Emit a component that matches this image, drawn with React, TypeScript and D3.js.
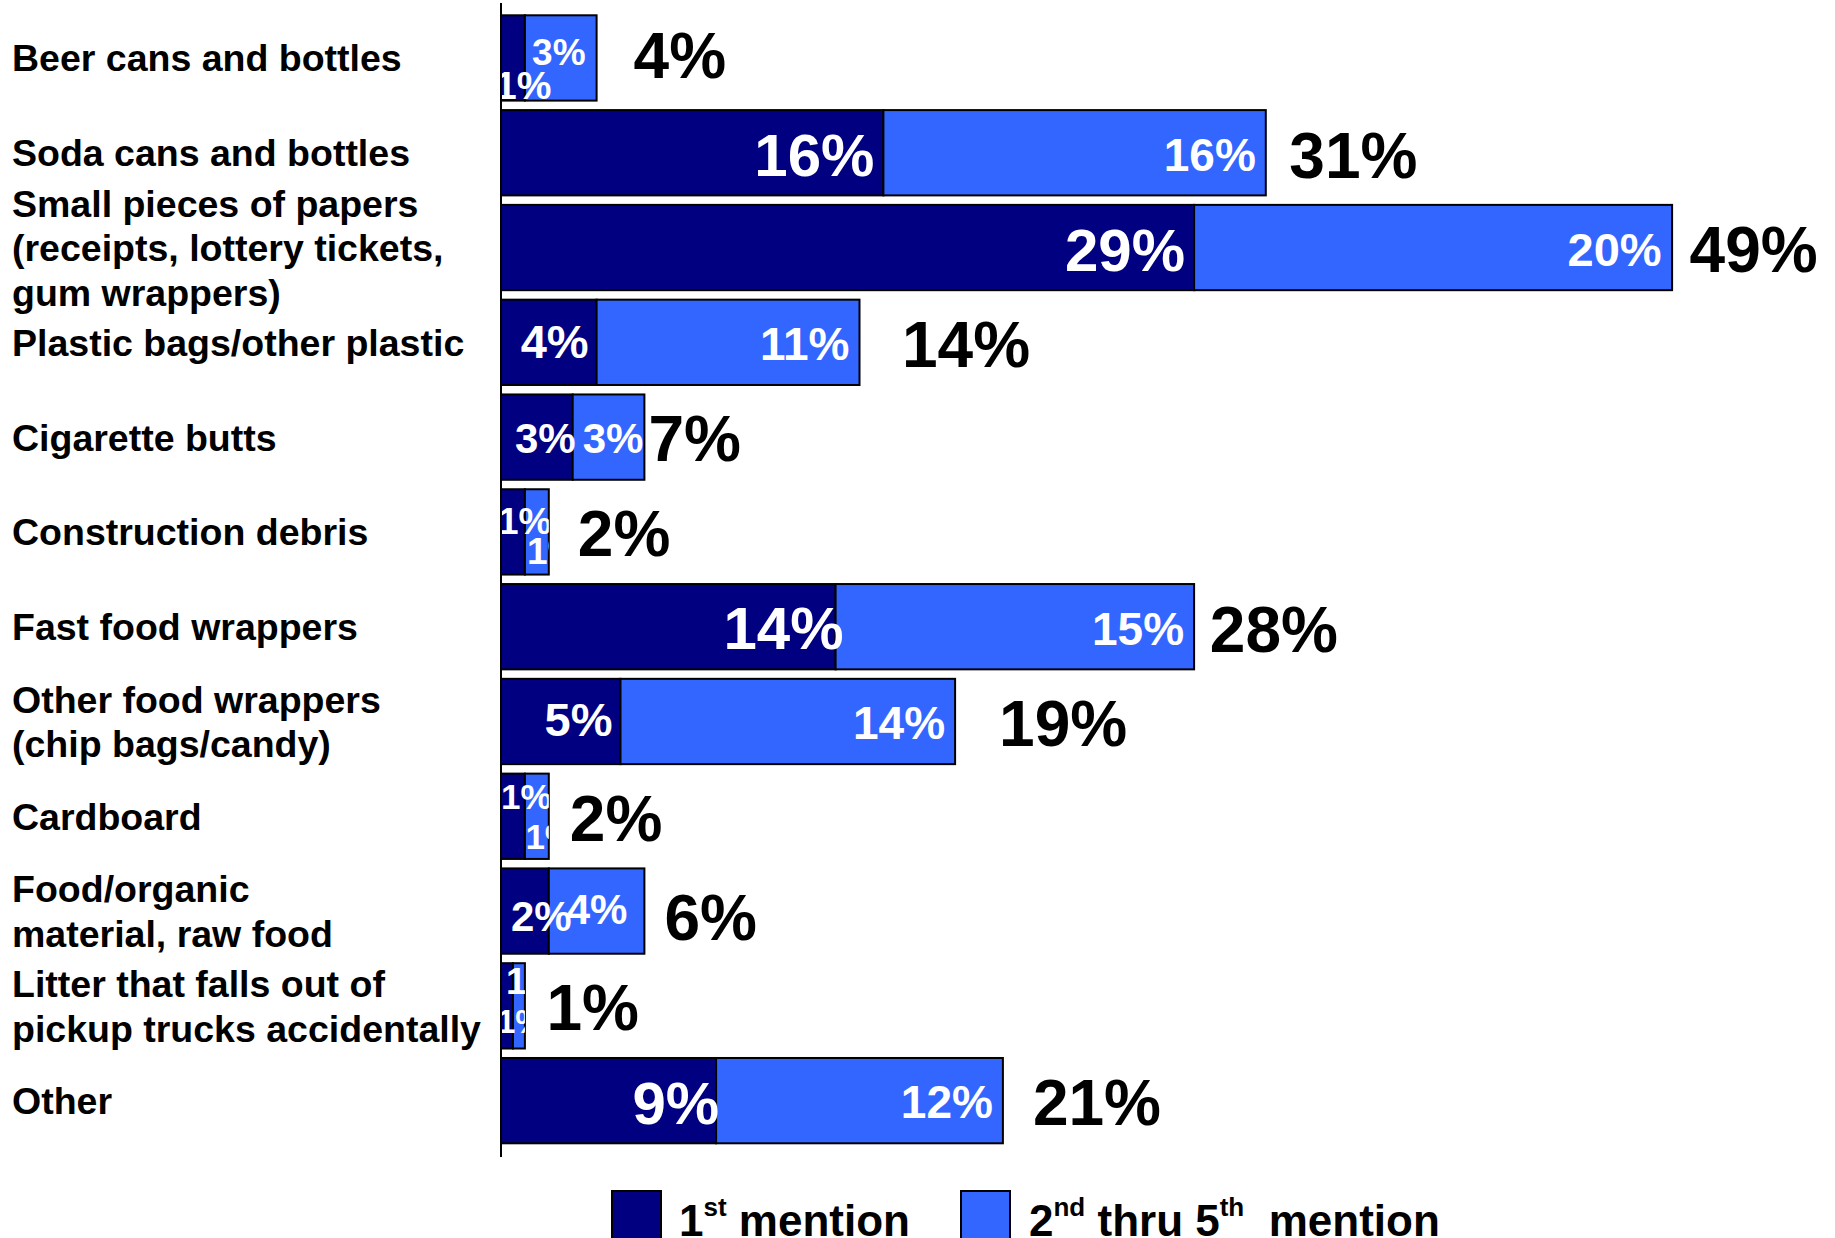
import React from "react";
import * as d3 from "d3";

// ---------- data ----------
const categories: string[][] = [
  ["Beer cans and bottles"],
  ["Soda cans and bottles"],
  ["Small pieces of papers", "(receipts, lottery tickets,", "gum wrappers)"],
  ["Plastic bags/other plastic"],
  ["Cigarette butts"],
  ["Construction debris"],
  ["Fast food wrappers"],
  ["Other food wrappers", "(chip bags/candy)"],
  ["Cardboard"],
  ["Food/organic", "material, raw food"],
  ["Litter that falls out of", "pickup trucks accidentally"],
  ["Other"],
];
const firstMention = [1, 16, 29, 4, 3, 1, 14, 5, 1, 2, 0.5, 9];
const laterMention = [3, 16, 20, 11, 3, 1, 15, 14, 1, 4, 0.5, 12];
const firstLabels = ["1%", "16%", "29%", "4%", "3%", "1%", "14%", "5%", "1%", "2%", "1%", "9%"];
const laterLabels = ["3%", "16%", "20%", "11%", "3%", "1%", "15%", "14%", "1%", "4%", "1%", "12%"];
const totalLabels = ["4%", "31%", "49%", "14%", "7%", "2%", "28%", "19%", "2%", "6%", "1%", "21%"];
const legendNames = ["1st mention", "2nd thru 5th mention"];

// ---------- label placement (style, not data) ----------
type Place = { size: number; anchor: "start" | "end"; dx: number; dy: number };
const firstPlace: Place[] = [
  { size: 39, anchor: "start", dx: -6, dy: 40.7 },
  { size: 60, anchor: "end", dx: -9, dy: 23 },
  { size: 60, anchor: "end", dx: -9, dy: 23.3 },
  { size: 47, anchor: "end", dx: -8, dy: 16 },
  { size: 42, anchor: "end", dx: 3, dy: 16.3 },
  { size: 37, anchor: "start", dx: -3, dy: 2 },
  { size: 60, anchor: "end", dx: 8, dy: 22.5 },
  { size: 47, anchor: "end", dx: -8, dy: 15 },
  { size: 35, anchor: "start", dx: 0, dy: -7 },
  { size: 42, anchor: "start", dx: 10, dy: 19.7 },
  { size: 33, anchor: "start", dx: -4, dy: 27.6 },
  { size: 60, anchor: "end", dx: 3, dy: 23.5 },
];
const laterPlace: Place[] = [
  { size: 37, anchor: "end", dx: -11, dy: 6.7 },
  { size: 46, anchor: "end", dx: -10, dy: 18 },
  { size: 47, anchor: "end", dx: -10.5, dy: 18 },
  { size: 46, anchor: "end", dx: -10, dy: 18 },
  { size: 42, anchor: "end", dx: -1, dy: 16.3 },
  { size: 37, anchor: "start", dx: 2, dy: 32 },
  { size: 46, anchor: "end", dx: -10, dy: 18.5 },
  { size: 46, anchor: "end", dx: -10, dy: 17.7 },
  { size: 35, anchor: "start", dx: 0.5, dy: 33 },
  { size: 42, anchor: "end", dx: -17, dy: 13 },
  { size: 37, anchor: "start", dx: -7, dy: -12 },
  { size: 46, anchor: "end", dx: -10, dy: 17.8 },
];
const totalGap = [37, 23.5, 17.5, 42.5, 4, 29, 15.7, 44, 21, 20, 21.5, 30];
const totalDy = [19.7, 25, 24, 24.4, 24.3, 24.3, 25, 25, 24.5, 29, 24.3, 24.3];

const W = 1835;
const H = 1238;
const FONT = "'Liberation Sans', Arial, Helvetica, sans-serif";
const DARK = "#000080";
const LIGHT = "#3366FF";

export default function App() {
  const x = d3.scaleLinear().domain([0, 50]).range([501, 501 + 50 * 23.9]);
  const ids = categories.map((_, i) => String(i));
  const step = 94.79;
  const y0 = 15.3 - step * 0.05;
  const y = d3
    .scaleBand<string>()
    .domain(ids)
    .range([y0, y0 + 12 * step])
    .paddingInner(0.1)
    .paddingOuter(0.05);
  const bw = y.bandwidth();

  return (
    <svg
      width={W}
      height={H}
      style={{ position: "absolute", left: 0, top: 0, background: "#fff" }}
      fontFamily={FONT}
      fontWeight="bold"
    >
      <defs>
        {ids.map((id, i) => (
          <clipPath id={`barclip-${i}`} key={id}>
            <rect
              x={x(0)}
              y={y(id)!}
              width={x(firstMention[i] + laterMention[i]) - x(0)}
              height={bw}
            />
          </clipPath>
        ))}
      </defs>

      {/* category labels */}
      {categories.map((lines, i) => {
        const cy = y(ids[i])! + bw / 2;
        const n = lines.length;
        return (
          <text key={`c${i}`} fontSize={37.5} fill="#000">
            {lines.map((ln, j) => (
              <tspan key={j} x={12} y={cy + 13.5 + (j - (n - 1) / 2) * 44.5}>
                {ln}
              </tspan>
            ))}
          </text>
        );
      })}

      {/* bars */}
      {ids.map((id, i) => {
        const top = y(id)!;
        const x0 = x(0);
        const x1 = x(firstMention[i]);
        const x2 = x(firstMention[i] + laterMention[i]);
        return (
          <g key={`b${i}`}>
            <rect x={x0} y={top} width={x1 - x0} height={bw} fill={DARK} stroke="#000" strokeWidth={2} />
            <rect x={x1} y={top} width={x2 - x1} height={bw} fill={LIGHT} stroke="#000" strokeWidth={2} />
          </g>
        );
      })}

      {/* inner labels */}
      {ids.map((id, i) => {
        const cy = y(id)! + bw / 2;
        const x0 = x(0);
        const x1 = x(firstMention[i]);
        const x2 = x(firstMention[i] + laterMention[i]);
        const p1 = firstPlace[i];
        const p2 = laterPlace[i];
        const fx = p1.anchor === "end" ? x1 + p1.dx : x0 + p1.dx;
        const lx = p2.anchor === "end" ? x2 + p2.dx : x1 + p2.dx;
        return (
          <g key={`l${i}`} clipPath={`url(#barclip-${i})`} fill="#fff">
            <text x={fx} y={cy + p1.dy} fontSize={p1.size} textAnchor={p1.anchor}>
              {firstLabels[i]}
            </text>
            <text x={lx} y={cy + p2.dy} fontSize={p2.size} textAnchor={p2.anchor}>
              {laterLabels[i]}
            </text>
          </g>
        );
      })}

      {/* totals */}
      {ids.map((id, i) => {
        const cy = y(id)! + bw / 2;
        const x2 = x(firstMention[i] + laterMention[i]);
        return (
          <text key={`t${i}`} x={x2 + totalGap[i]} y={cy + totalDy[i]} fontSize={64} fill="#000">
            {totalLabels[i]}
          </text>
        );
      })}

      {/* axis line */}
      <line x1={x(0)} x2={x(0)} y1={3} y2={1157} stroke="#000" strokeWidth={2} />

      {/* legend */}
      <g>
        <rect x={612} y={1191} width={49} height={60} fill={DARK} stroke="#000" strokeWidth={2} />
        <text x={679} y={1236} fontSize={44} fill="#000">
          <tspan>{legendNames[0].slice(0, 1)}</tspan>
          <tspan dy={-20} fontSize={26}>{legendNames[0].slice(1, 3)}</tspan>
          <tspan dy={20}>{legendNames[0].slice(3)}</tspan>
        </text>
        <rect x={961} y={1191} width={49} height={60} fill={LIGHT} stroke="#000" strokeWidth={2} />
        <text x={1029} y={1236} fontSize={44} fill="#000">
          <tspan>2</tspan>
          <tspan dy={-20} fontSize={26}>nd</tspan>
          <tspan dy={20}>{" thru 5"}</tspan>
          <tspan dy={-20} fontSize={26}>th</tspan>
          <tspan dy={20} xmlSpace="preserve">{"  mention"}</tspan>
        </text>
      </g>
    </svg>
  );
}
